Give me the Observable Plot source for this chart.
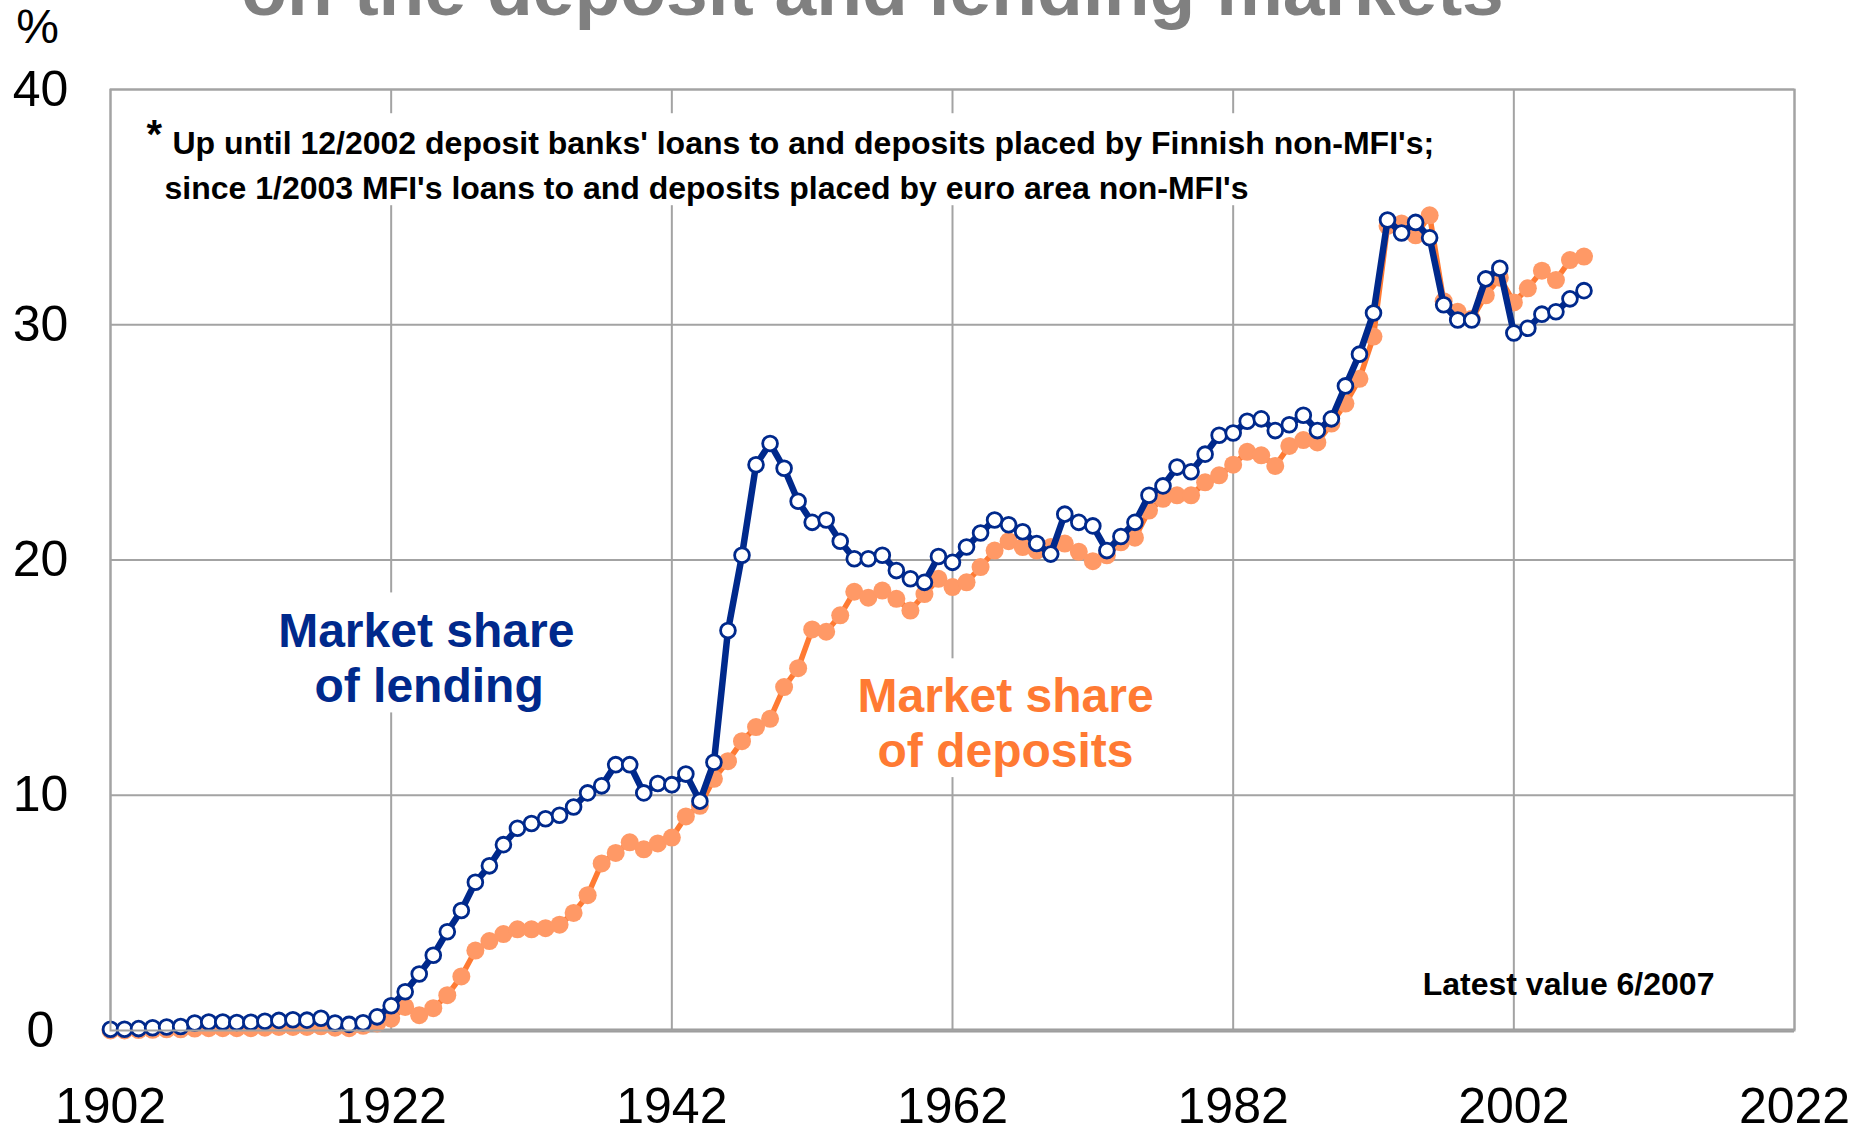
<!DOCTYPE html>
<html>
<head>
<meta charset="utf-8">
<script src="https://cdn.jsdelivr.net/npm/d3@7"></script>
<script src="https://cdn.jsdelivr.net/npm/@observablehq/plot@0.6"></script>
<style>
  html, body { margin: 0; padding: 0; background: #fff; }
  svg { display: block; }
</style>
</head>
<body>
<div id="chart"></div>
<script>
const years = [1902,1903,1904,1905,1906,1907,1908,1909,1910,1911,1912,1913,1914,1915,1916,1917,1918,1919,1920,1921,
  1922,1923,1924,1925,1926,1927,1928,1929,1930,1931,1932,1933,1934,1935,1936,1937,1938,1939,1940,1941,
  1942,1943,1944,1945,1946,1947,1948,1949,1950,1951,1952,1953,1954,1955,1956,1957,1958,1959,1960,1961,
  1962,1963,1964,1965,1966,1967,1968,1969,1970,1971,1972,1973,1974,1975,1976,1977,1978,1979,1980,1981,
  1982,1983,1984,1985,1986,1987,1988,1989,1990,1991,1992,1993,1994,1995,1996,1997,1998,1999,2000,2001,
  2002,2003,2004,2005,2006,2007];

const lendingShare = [0.05,0.05,0.08,0.12,0.15,0.17,0.32,0.36,0.36,0.34,0.35,0.39,0.43,0.46,0.44,0.52,0.32,0.26,0.33,0.58,
  1.05,1.65,2.4,3.2,4.2,5.1,6.3,7.0,7.9,8.6,8.8,9.0,9.15,9.5,10.1,10.4,11.3,11.3,10.1,10.5,
  10.45,10.9,9.75,11.4,17.0,20.2,24.05,24.95,23.9,22.5,21.6,21.7,20.8,20.05,20.05,20.2,19.55,19.2,19.05,20.15,
  19.9,20.55,21.15,21.7,21.5,21.2,20.7,20.25,21.95,21.6,21.45,20.4,21.0,21.6,22.75,23.15,23.95,23.75,24.5,25.3,
  25.4,25.9,26.0,25.5,25.75,26.15,25.5,26.0,27.4,28.75,30.5,34.45,33.9,34.35,33.7,30.85,30.2,30.2,31.95,32.4,
  29.65,29.85,30.45,30.55,31.1,31.45];

const depositShare = [0.0,0.0,0.02,0.03,0.05,0.05,0.08,0.1,0.1,0.1,0.1,0.12,0.15,0.15,0.15,0.18,0.12,0.1,0.2,0.3,
  0.5,1.0,0.65,0.95,1.5,2.3,3.4,3.8,4.1,4.3,4.3,4.35,4.5,5.0,5.75,7.1,7.55,8.0,7.7,7.95,
  8.2,9.1,9.55,10.7,11.45,12.3,12.9,13.25,14.6,15.4,17.05,16.95,17.65,18.65,18.4,18.7,18.35,17.85,18.55,19.2,
  18.85,19.05,19.7,20.4,20.8,20.55,20.4,20.55,20.7,20.35,19.95,20.2,20.75,20.95,22.1,22.6,22.75,22.75,23.3,23.6,
  24.05,24.6,24.45,24.0,24.85,25.1,25.0,25.8,26.65,27.7,29.5,34.2,34.3,33.8,34.65,31.0,30.55,30.25,31.25,32.0,
  30.95,31.55,32.3,31.9,32.75,32.9];

const xTicks = [1902, 1922, 1942, 1962, 1982, 2002, 2022];
const yTicks = [0, 10, 20, 30, 40];

const titleText = "on the deposit and lending markets";
const noteLine1 = "Up until 12/2002 deposit banks' loans to and deposits placed by Finnish non-MFI's;";
const noteLine2 = "since 1/2003 MFI's loans to and deposits placed by euro area non-MFI's";
const lendingLabel = ["Market share", "of lending"];
const depositLabel = ["Market share", "of deposits"];
const latestText = "Latest value 6/2007";

const lending = years.map((year, i) => ({year, value: lendingShare[i]}));
const deposits = years.map((year, i) => ({year, value: depositShare[i]}));

const BLUE = "#00298C";
const ORANGE_LINE = "#FF7A33";
const ORANGE_DOT = "#FF9966";
const GRID = "#A3A3A3";
const FONT = "'Liberation Sans', Arial, Helvetica, sans-serif";

const chart = Plot.plot({
  width: 1859,
  height: 1134,
  marginLeft: 110,
  marginRight: 65,
  marginTop: 89,
  marginBottom: 104,
  style: {fontFamily: FONT, fontSize: "50px", color: "black", background: "white", overflow: "hidden"},
  x: {domain: [1902, 2022]},
  y: {domain: [0, 40]},
  marks: [
    Plot.ruleX(xTicks, {stroke: GRID, strokeWidth: 2}),
    Plot.ruleY(yTicks, {stroke: GRID, strokeWidth: 2}),
    Plot.ruleY([0], {stroke: "#999", strokeWidth: 4}),
    // white boxes behind the annotations
    Plot.rect([{x1: 1904, x2: 2000, y1: 35.06, y2: 38.97}], {x1: "x1", x2: "x2", y1: "y1", y2: "y2", fill: "white"}),
    Plot.rect([{x1: 1913, x2: 1934, y1: 13.5, y2: 18.6}], {x1: "x1", x2: "x2", y1: "y1", y2: "y2", fill: "white"}),
    Plot.rect([{x1: 1952.3, x2: 1973.3, y1: 10.75, y2: 15.8}], {x1: "x1", x2: "x2", y1: "y1", y2: "y2", fill: "white"}),
    // deposits
    Plot.line(deposits, {x: "year", y: "value", stroke: ORANGE_LINE, strokeWidth: 5.5}),
    Plot.dot(deposits, {x: "year", y: "value", r: 9, fill: ORANGE_DOT, stroke: "none"}),
    // lending
    Plot.line(lending, {x: "year", y: "value", stroke: BLUE, strokeWidth: 6.5}),
    Plot.dot(lending, {x: "year", y: "value", r: 7.4, fill: "white", stroke: BLUE, strokeWidth: 2.8}),
    // axes
    Plot.axisX({ticks: xTicks, tickSize: 0, tickPadding: 57, tickFormat: d => String(d), label: null, fontSize: 50, fill: "black"}),
    Plot.axisY({ticks: yTicks, tickSize: 0, tickPadding: 70, textAnchor: "middle", label: null, fontSize: 50, fill: "black"}),
    Plot.text(["%"], {frameAnchor: "top-left", dx: -73, dy: -62, fontSize: 48, textAnchor: "middle", lineAnchor: "middle", fill: "black"}),
    // title (cut off at top, as in the reference)
    Plot.text([titleText], {frameAnchor: "top-left", dx: 762, dy: -75, fontSize: 75, fontWeight: "bold", fill: "#808080", textAnchor: "middle", lineAnchor: "bottom"}),
    // footnote
    Plot.text(["*"], {frameAnchor: "top-left", dx: 36, dy: 58, fontSize: 40, fontWeight: "bold", fill: "black", textAnchor: "start", lineAnchor: "bottom"}),
    Plot.text([noteLine1], {frameAnchor: "top-left", dx: 62, dy: 64, fontSize: 32, fontWeight: "bold", fill: "black", textAnchor: "start", lineAnchor: "bottom"}),
    Plot.text([noteLine2], {frameAnchor: "top-left", dx: 54, dy: 109, fontSize: 32, fontWeight: "bold", fill: "black", textAnchor: "start", lineAnchor: "bottom"}),
    // series labels
    Plot.text([lendingLabel[0]], {x: () => 1924.5, y: () => 16.32, fontSize: 48, fontWeight: "bold", fill: BLUE, textAnchor: "middle", lineAnchor: "bottom"}),
    Plot.text([lendingLabel[1]], {x: () => 1924.7, y: () => 13.98, fontSize: 48, fontWeight: "bold", fill: BLUE, textAnchor: "middle", lineAnchor: "bottom"}),
    Plot.text([depositLabel[0]], {x: () => 1965.78, y: () => 13.56, fontSize: 48, fontWeight: "bold", fill: ORANGE_LINE, textAnchor: "middle", lineAnchor: "bottom"}),
    Plot.text([depositLabel[1]], {x: () => 1965.78, y: () => 11.2, fontSize: 48, fontWeight: "bold", fill: ORANGE_LINE, textAnchor: "middle", lineAnchor: "bottom"}),
    Plot.text([latestText], {x: () => 2005.9, y: () => 1.53, fontSize: 32, fontWeight: "bold", fill: "black", textAnchor: "middle", lineAnchor: "bottom"}),
    Plot.frame({stroke: GRID, strokeWidth: 2})
  ]
});
document.getElementById("chart").appendChild(chart);
</script>
</body>
</html>
